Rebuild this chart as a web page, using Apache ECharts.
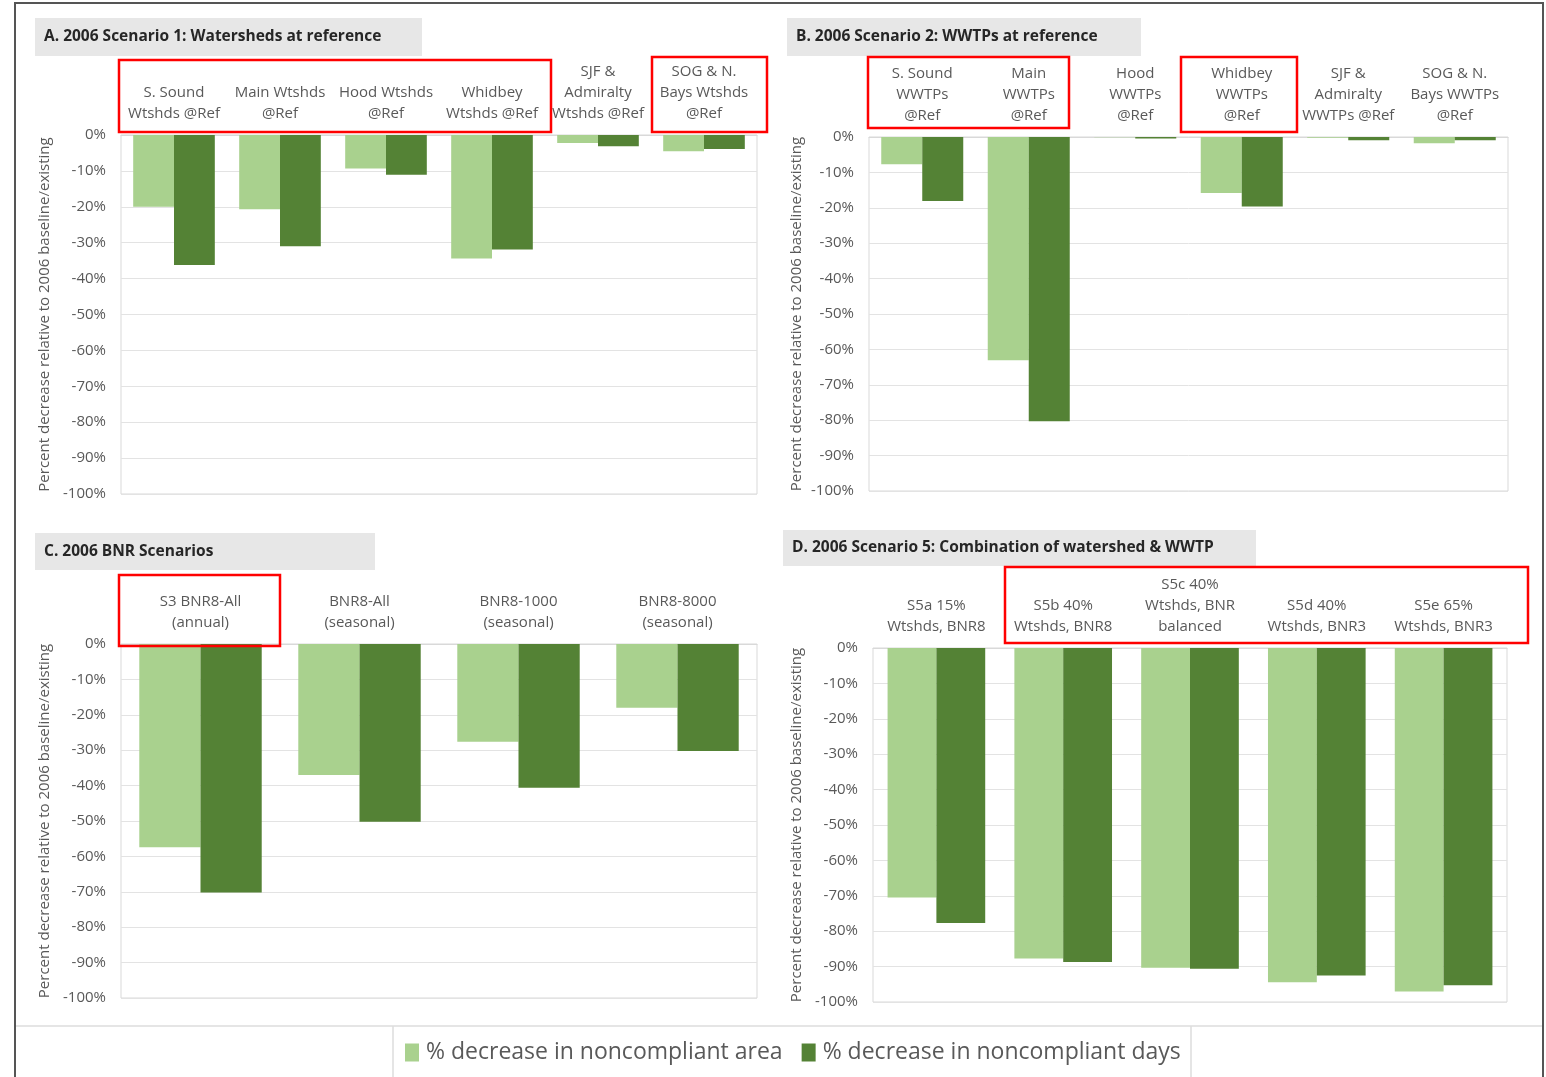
<!DOCTYPE html>
<html>
<head>
<meta charset="utf-8">
<script src="https://cdn.jsdelivr.net/npm/echarts@6/dist/echarts.min.js"></script>
<style>
html,body{margin:0;padding:0;background:#fff;}
#c{width:1546px;height:1077px;}
</style>
</head>
<body>
<div id="c"></div>
<script>
// ---- Data ----
const seriesNames = ['% decrease in noncompliant area', '% decrease in noncompliant days'];

const catsA = ['S. Sound\nWtshds @Ref', 'Main Wtshds\n@Ref', 'Hood Wtshds\n@Ref', 'Whidbey\nWtshds @Ref', 'SJF &\nAdmiralty\nWtshds @Ref', 'SOG & N.\nBays Wtshds\n@Ref'];
const areaA = [-20, -20.7, -9.3, -34.4, -2.2, -4.5];
const daysA = [-36.2, -31, -11.1, -31.9, -3.1, -3.9];

const catsB = ['S. Sound\nWWTPs\n@Ref', 'Main\nWWTPs\n@Ref', 'Hood\nWWTPs\n@Ref', 'Whidbey\nWWTPs\n@Ref', 'SJF &\nAdmiralty\nWWTPs @Ref', 'SOG & N.\nBays WWTPs\n@Ref'];
const areaB = [-7.7, -63.1, -0.1, -15.8, -0.2, -1.8];
const daysB = [-18.1, -80.3, -0.4, -19.6, -0.9, -0.9];

const catsC = ['S3 BNR8-All\n(annual)', 'BNR8-All\n(seasonal)', 'BNR8-1000\n(seasonal)', 'BNR8-8000\n(seasonal)'];
const areaC = [-57.4, -37, -27.6, -18];
const daysC = [-70.2, -50.2, -40.6, -30.2];

const catsD = ['S5a 15%\nWtshds, BNR8', 'S5b 40%\nWtshds, BNR8', 'S5c 40%\nWtshds, BNR\nbalanced', 'S5d 40%\nWtshds, BNR3', 'S5e 65%\nWtshds, BNR3'];
const areaD = [-70.5, -87.7, -90.3, -94.4, -97];
const daysD = [-77.7, -88.7, -90.6, -92.5, -95.3];

const yTicks = {min: -100, max: 0, interval: 10};
const yTitle = 'Percent decrease relative to 2006 baseline/existing';
const panelTitles = ['A. 2006 Scenario 1: Watersheds at reference', 'B. 2006 Scenario 2: WWTPs at reference', 'C. 2006 BNR Scenarios', 'D. 2006 Scenario 5: Combination of watershed & WWTP'];

// ---- Styling ----
const FONT = 'Open Sans';
const LIGHT = '#a9d18e';
const DARK = '#548235';
const TXT = '#595959';

const grids = [
  {left: 121, top: 135, width: 636, height: 359},
  {left: 869, top: 137, width: 639, height: 354},
  {left: 121, top: 644, width: 636, height: 354},
  {left: 873, top: 648, width: 634, height: 354}
];
const cats = [catsA, catsB, catsC, catsD];
const areas = [areaA, areaB, areaC, areaD];
const days = [daysA, daysB, daysC, daysD];
const nameGaps = [69, 65, 69, 69];

const option = {
  animation: false,
  backgroundColor: '#fff',
  textStyle: {fontFamily: FONT},
  grid: grids.map(g => Object.assign({show: true, borderColor: '#d9d9d9', borderWidth: 1, containLabel: false}, g)),
  xAxis: cats.map((c, i) => ({
    type: 'category', gridIndex: i, data: c, position: 'top',
    axisLine: {show: true, lineStyle: {color: '#d9d9d9'}},
    axisTick: {show: false},
    axisLabel: {interval: 0, color: TXT, fontFamily: FONT, fontSize: 15, lineHeight: 21, margin: 11}
  })),
  yAxis: cats.map((c, i) => ({
    type: 'value', gridIndex: i, min: yTicks.min, max: yTicks.max, interval: yTicks.interval,
    name: yTitle, nameLocation: 'middle', nameRotate: 90, nameGap: nameGaps[i],
    nameTextStyle: {color: TXT, fontFamily: FONT, fontSize: 15},
    axisLine: {show: false}, axisTick: {show: false},
    axisLabel: {color: TXT, fontFamily: FONT, fontSize: 15, margin: 15, formatter: '{value}%'},
    splitLine: {show: true, lineStyle: {color: '#e3e3e3', width: 1}}
  })),
  legend: {
    data: seriesNames, bottom: 8, left: 400,
    itemWidth: 14, itemHeight: 18, itemGap: 19,
    icon: 'rect',
    textStyle: {color: TXT, fontFamily: FONT, fontSize: 23, padding: [0, 0, 0, 2]}
  },
  series: [],
  graphic: []
};

for (let i = 0; i < 4; i++) {
  option.series.push({
    name: seriesNames[0], type: 'bar', xAxisIndex: i, yAxisIndex: i, data: areas[i],
    itemStyle: {color: LIGHT}, barGap: '0%', barCategoryGap: '23%'
  });
  option.series.push({
    name: seriesNames[1], type: 'bar', xAxisIndex: i, yAxisIndex: i, data: days[i],
    itemStyle: {color: DARK}, barGap: '0%', barCategoryGap: '23%'
  });
}

// Panel title boxes
const titleBoxes = [
  {x: 35, y: 18, w: 387, h: 38},
  {x: 787, y: 18, w: 354, h: 38},
  {x: 35, y: 533, w: 340, h: 37},
  {x: 783, y: 530, w: 473, h: 36}
];
const g = option.graphic;
titleBoxes.forEach((b, i) => {
  g.push({type: 'rect', shape: {x: b.x, y: b.y, width: b.w, height: b.h}, style: {fill: '#e7e7e7'}, z: 1});
  g.push({type: 'text', x: b.x + 9, y: b.y + b.h / 2, style: {text: panelTitles[i], fill: '#262626', font: 'bold 15.5px "' + FONT + '"', textVerticalAlign: 'middle'}, z: 2});
});

// Red highlight boxes
const redBoxes = [
  {x: 119, y: 60, w: 432, h: 72},
  {x: 652, y: 57, w: 115, h: 75},
  {x: 868, y: 57, w: 201, h: 71},
  {x: 1181, y: 57, w: 116, h: 75},
  {x: 119, y: 575, w: 161, h: 71},
  {x: 1005, y: 567, w: 523, h: 76}
];
redBoxes.forEach(b => {
  g.push({type: 'rect', shape: {x: b.x, y: b.y, width: b.w, height: b.h}, style: {fill: 'none', stroke: '#ff0000', lineWidth: 2.5}, z: 10});
});

// Legend frame lines
g.push({type: 'polyline', shape: {points: [[16, 1026], [1542, 1026]]}, style: {stroke: '#dcdcdc', lineWidth: 1.5, fill: 'none'}, z: 1});
g.push({type: 'polyline', shape: {points: [[393, 1077], [393, 1026]]}, style: {stroke: '#dcdcdc', lineWidth: 1.5, fill: 'none'}, z: 1});
g.push({type: 'polyline', shape: {points: [[1191, 1077], [1191, 1026]]}, style: {stroke: '#dcdcdc', lineWidth: 1.5, fill: 'none'}, z: 1});

// Outer figure frame
g.push({type: 'rect', shape: {x: 15, y: 3, width: 1528, height: 1090}, style: {fill: 'none', stroke: '#555555', lineWidth: 2}, z: 20});

const chart = echarts.init(document.getElementById('c'), null, {renderer: 'canvas'});
chart.setOption(option);
</script>
</body>
</html>
